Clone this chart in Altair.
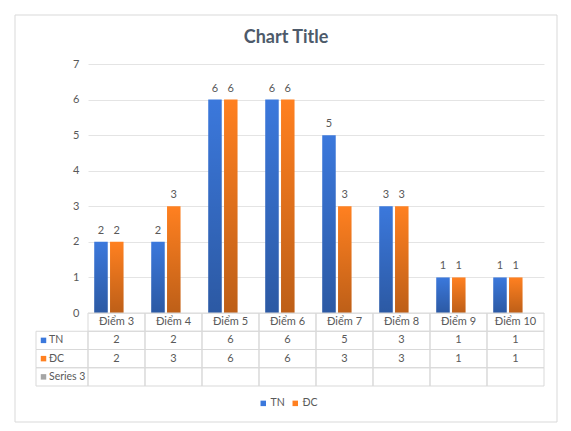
import altair as alt
import pandas as pd

# data
categories = ["Điểm 3", "Điểm 4", "Điểm 5", "Điểm 6", "Điểm 7", "Điểm 8", "Điểm 9", "Điểm 10"]
tn_values = [2, 2, 6, 6, 5, 3, 1, 1]
dc_values = [2, 3, 6, 6, 3, 3, 1, 1]
series_names = ["TN", "ĐC"]
table_rows = ["header", "TN", "ĐC", "Series 3"]
y_ticks = [0, 1, 2, 3, 4, 5, 6, 7]

colors = {"TN": "#3B78DC", "ĐC": "#FF8020", "Series 3": "#A5A5A5"}
text_color = "#595959"
line_color = "#D9D9D9"
font = "Lato"

W, H = 456, 249
TABLE_H = 73
LABEL_W = 52

bars_df = pd.DataFrame(
    [{"cat": c, "series": "TN", "value": v} for c, v in zip(categories, tn_values)]
    + [{"cat": c, "series": "ĐC", "value": v} for c, v in zip(categories, dc_values)]
)

cells = []
for i, c in enumerate(categories):
    cells.append({"cat": c, "row": "header", "text": c})
    cells.append({"cat": c, "row": "TN", "text": str(tn_values[i])})
    cells.append({"cat": c, "row": "ĐC", "text": str(dc_values[i])})
    cells.append({"cat": c, "row": "Series 3", "text": ""})
cells_df = pd.DataFrame(cells)

labels_df = pd.DataFrame({"col": "label", "row": table_rows[1:], "text": table_rows[1:]})

x_cat = alt.X("cat:N", sort=categories, axis=None,
              scale=alt.Scale(domain=categories, paddingInner=0, paddingOuter=0))
x_off = alt.XOffset("series:N", sort=series_names,
                    scale=alt.Scale(domain=series_names, paddingInner=0.1456,
                                    paddingOuter=0.8766, align=0.225))
y_val = alt.Y("value:Q", scale=alt.Scale(domain=[0, 7], nice=False),
              axis=alt.Axis(values=y_ticks, title=None, domain=False, ticks=False,
                            labelPadding=9, labelFontSize=11, labelColor=text_color,
                            labelFont=font, gridColor="#E4E4E4"))

base = alt.Chart(bars_df)
bars = base.mark_bar().encode(
    x=x_cat, xOffset=x_off, y=y_val,
    color=alt.Color("series:N",
                    scale=alt.Scale(domain=series_names,
                                    range=[colors["TN"], colors["ĐC"]]),
                    legend=alt.Legend(orient="none", legendX=170, legendY=334,
                                      direction="horizontal", title=None,
                                      symbolType="square", symbolSize=30,
                                      symbolStrokeWidth=0, labelFont=font,
                                      labelFontSize=10.5, labelColor=text_color,
                                      columnPadding=5, labelOffset=2)),
)
# darker toward the bottom of every bar, like the Office gradient fill
shade = base.mark_bar(
    color=alt.Gradient(
        gradient="linear", x1=0, y1=0, x2=0, y2=1,
        stops=[alt.GradientStop(color="rgba(0,0,0,0)", offset=0),
               alt.GradientStop(color="rgba(0,0,0,0.26)", offset=1)],
    )
).encode(x=x_cat, xOffset=x_off, y=y_val)
bar_labels = base.mark_text(baseline="alphabetic", dy=-8, fontSize=11,
                            font=font, color=text_color).encode(
    x=x_cat, xOffset=x_off, y=y_val, text=alt.Text("value:Q", format="d")
)
bar_group = alt.layer(bars, shade, bar_labels)

# data table under the plot
y_row = alt.Y("row:N", sort=table_rows, axis=None,
              scale=alt.Scale(domain=table_rows, range=[H, H + TABLE_H],
                              paddingInner=0, paddingOuter=0))
cell_rects = alt.Chart(cells_df).mark_rect(
    fill="white", fillOpacity=0, stroke=line_color, strokeWidth=1
).encode(x=x_cat, y=y_row)
cell_text = alt.Chart(cells_df).mark_text(
    fontSize=11, font=font, color=text_color, baseline="middle"
).encode(x=x_cat, y=y_row, text="text:N")
table_group = alt.layer(cell_rects, cell_text)

x_lab = alt.X("col:N", axis=None,
              scale=alt.Scale(domain=["label"], range=[-LABEL_W, 0],
                              paddingInner=0, paddingOuter=0))
x_lab_start = alt.X("col:N", bandPosition=0, axis=None,
                    scale=alt.Scale(domain=["label"], range=[-LABEL_W, 0],
                                    paddingInner=0, paddingOuter=0))
lab_rects = alt.Chart(labels_df).mark_rect(
    fill="white", fillOpacity=0, stroke=line_color, strokeWidth=1
).encode(x=x_lab, y=y_row)
lab_keys = alt.Chart(labels_df).mark_square(size=30, opacity=1, xOffset=7.5).encode(
    x=x_lab_start,
    y=y_row,
    color=alt.Color("row:N", legend=None,
                    scale=alt.Scale(domain=table_rows[1:],
                                    range=[colors["TN"], colors["ĐC"], colors["Series 3"]])),
)
lab_text = alt.Chart(labels_df).mark_text(
    align="left", dx=13, fontSize=10.5, font=font, color=text_color, baseline="middle"
).encode(x=x_lab_start, y=y_row, text="text:N")
frame = alt.Chart(pd.DataFrame({"k": [0]})).mark_rect(
    fill="white", fillOpacity=0, stroke=line_color, strokeWidth=1
).encode(x=alt.value(-73), x2=alt.value(469), y=alt.value(-49), y2=alt.value(358))
label_group = alt.layer(lab_rects, lab_keys, lab_text, frame)

chart = alt.layer(bar_group, table_group, label_group).resolve_scale(
    x="independent", y="independent", color="independent"
).properties(
    width=W, height=H,
    autosize=alt.AutoSizeParams(type="none"),
    padding={"left": 80, "top": 56, "right": 19, "bottom": 110},
    title=alt.TitleParams("Chart Title", font=font, fontSize=18, fontWeight="bold",
                          color="#4D5A6A", anchor="middle", frame="bounds",
                          baseline="alphabetic", offset=0, dy=46),
).configure_view(stroke=None)

chart.save("out.html", embed_options={"renderer": "svg", "actions": False})
